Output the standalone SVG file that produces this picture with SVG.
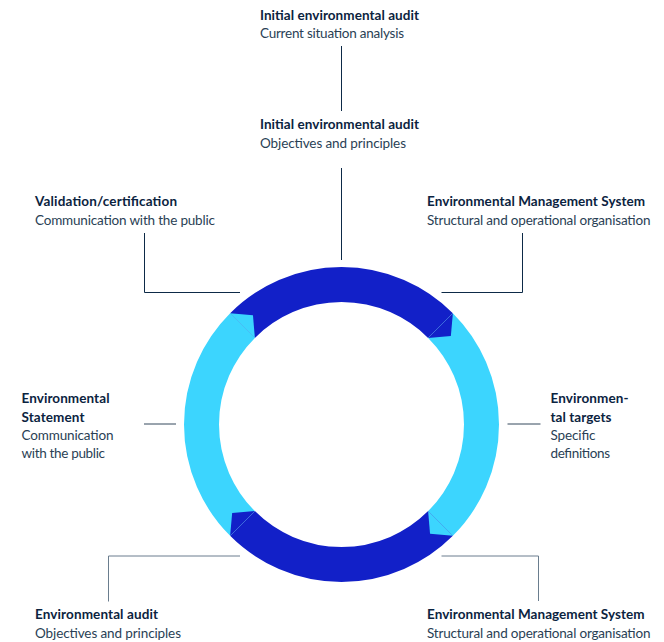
<svg xmlns="http://www.w3.org/2000/svg" width="664" height="642" viewBox="0 0 664 642">
<style>
.b{font-family:Lato,"Noto Sans","Liberation Sans",sans-serif;font-size:13.5px;font-weight:700;fill:#0b2340}
.r{font-family:Lato,"Noto Sans","Liberation Sans",sans-serif;font-size:13.5px;font-weight:400;fill:#2a3f55}
.ln{fill:none;stroke:#0d2a47;stroke-width:1}
.ll{fill:none;stroke:#6a7d8e;stroke-width:1}
.dk{fill:none;stroke:#1220c8;stroke-width:35}
.cy{fill:none;stroke:#3cd5fe;stroke-width:35}
</style>
<rect width="664" height="642" fill="#ffffff"/>
<g id="connectors">
<path class="ln" d="M341.5 46 V111"/>
<path class="ln" d="M341.5 168 V260"/>
<path class="ln" d="M144.5 233 V292.5 H240"/>
<path class="ln" d="M441.5 292.5 H522.5 V233"/>
<path class="ln" d="M144 424 H176" style="stroke:#34495d"/>
<path class="ln" d="M507.5 424 H540.5" style="stroke:#34495d"/>
<path class="ll" d="M240 556 H108.5 V601.5"/>
<path class="ll" d="M441.5 556 H538.5 V601"/>
</g>
<g id="cycle">
<path class="dk" d="M242.51 325.51 A140 140 0 0 1 440.49 325.51"/>
<path class="cy" d="M440.49 325.51 A140 140 0 0 1 440.49 523.49"/>
<path class="dk" d="M440.49 523.49 A140 140 0 0 1 242.51 523.49"/>
<path class="cy" d="M242.51 523.49 A140 140 0 0 1 242.51 325.51"/>
<polygon fill="#3cd5fe" points="230.13,313.13 252.95,315.16 254.88,337.88"/>
<polygon fill="#1220c8" points="452.87,313.13 450.84,335.95 428.12,337.88"/>
<polygon fill="#3cd5fe" points="452.87,535.87 430.05,533.84 428.12,511.12"/>
<polygon fill="#1220c8" points="230.13,535.87 232.16,513.05 254.88,511.12"/>
</g>
<g id="node-initial-audit-analysis">
<text class="b" x="260" y="19.5" textLength="159">Initial environmental audit</text>
<text class="r" x="260" y="38" textLength="144">Current situation analysis</text>
</g>
<g id="node-initial-audit-objectives">
<text class="b" x="260" y="129" textLength="159">Initial environmental audit</text>
<text class="r" x="260" y="147.5" textLength="146">Objectives and principles</text>
</g>
<g id="node-validation">
<text class="b" x="35" y="206" textLength="142">Validation/certification</text>
<text class="r" x="35" y="224.5" textLength="180">Communication with the public</text>
</g>
<g id="node-ems-top">
<text class="b" x="427" y="206" textLength="218">Environmental Management System</text>
<text class="r" x="427" y="224.5" textLength="223.5">Structural and operational organisation</text>
</g>
<g id="node-statement">
<text class="b" x="21.5" y="402.5" textLength="88">Environmental</text>
<text class="b" x="21.5" y="421.5" textLength="63">Statement</text>
<text class="r" x="21.5" y="439.5" textLength="92">Communication</text>
<text class="r" x="21.5" y="458" textLength="83.5">with the public</text>
</g>
<g id="node-targets">
<text class="b" x="550.5" y="402.5" textLength="78">Environmen-</text>
<text class="b" x="550.5" y="421.5" textLength="61">tal targets</text>
<text class="r" x="550.5" y="439.5" textLength="45">Specific</text>
<text class="r" x="550.5" y="458" textLength="59.5">definitions</text>
</g>
<g id="node-audit">
<text class="b" x="35" y="619" textLength="123">Environmental audit</text>
<text class="r" x="35" y="637.5" textLength="146">Objectives and principles</text>
</g>
<g id="node-ems-bottom">
<text class="b" x="427" y="619" textLength="217.5">Environmental Management System</text>
<text class="r" x="427" y="637.5" textLength="223.5">Structural and operational organisation</text>
</g>
</svg>
